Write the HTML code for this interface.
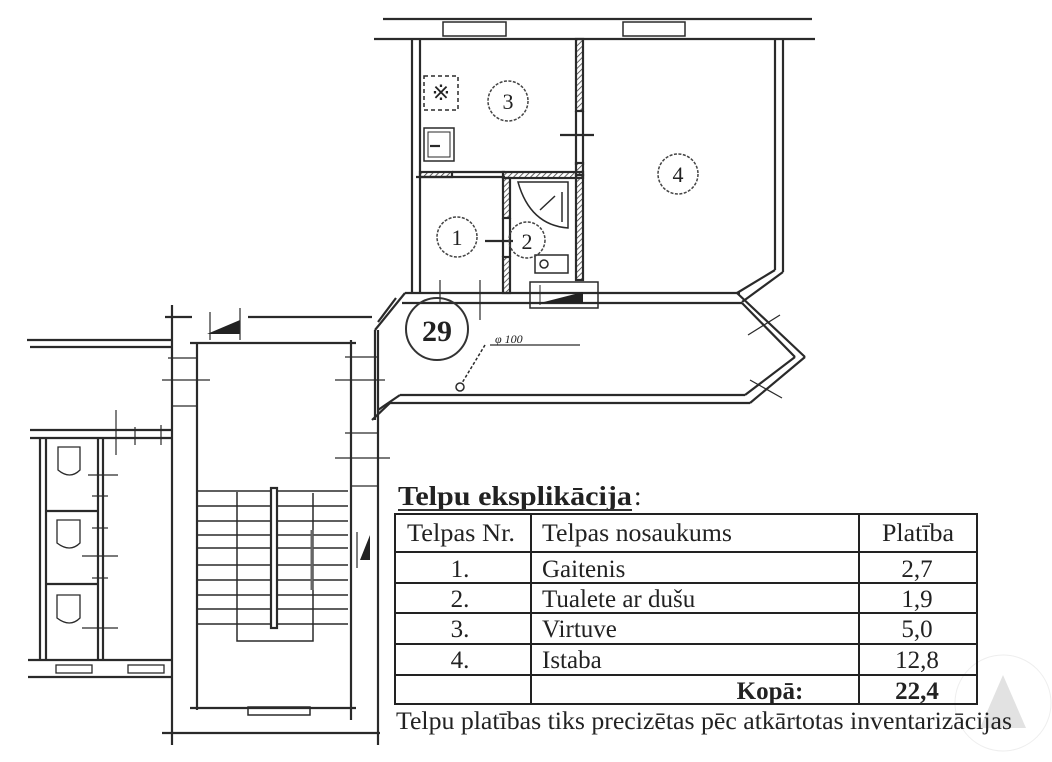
<!DOCTYPE html>
<html><head><meta charset="utf-8"><style>
html,body{margin:0;padding:0;background:#fff;}
svg{display:block}
text{font-family:"Liberation Serif",serif;fill:#222}
</style></head><body>
<svg width="1052" height="762" viewBox="0 0 1052 762" xmlns="http://www.w3.org/2000/svg">
<defs>
<pattern id="h" width="4" height="4" patternUnits="userSpaceOnUse" patternTransform="rotate(45)">
<line x1="0" y1="0" x2="0" y2="4" stroke="#333" stroke-width="1.5"/></pattern>
</defs>
<g stroke="#2a2a2a" stroke-width="2.2" fill="none">
<line x1="383" y1="19" x2="812" y2="19"/>
<line x1="374" y1="39" x2="815" y2="39"/>
<rect x="443" y="22" width="63" height="14" stroke-width="1.5"/>
<rect x="623" y="22" width="62" height="14" stroke-width="1.5"/>
<line x1="412" y1="39" x2="412" y2="293"/>
<line x1="420" y1="39" x2="420" y2="293"/>
<line x1="775" y1="39" x2="775" y2="270"/>
<line x1="783" y1="39" x2="783" y2="272"/>
<line x1="775" y1="270" x2="737" y2="293"/>
<line x1="783" y1="272" x2="742" y2="302"/>
<rect x="576" y="39" width="7" height="72" fill="url(#h)"/>
<line x1="576" y1="111" x2="576" y2="165"/>
<line x1="583" y1="111" x2="583" y2="165"/>
<rect x="576" y="163" width="7" height="12" fill="url(#h)"/>
<line x1="560" y1="135" x2="594" y2="135"/>
<rect x="420" y="172" width="32" height="5" fill="url(#h)"/>
<line x1="416" y1="177" x2="505" y2="177"/>
<line x1="452" y1="172" x2="505" y2="172"/>
<rect x="503" y="172" width="80" height="6" fill="url(#h)"/>
<rect x="503" y="178" width="7" height="40" fill="url(#h)"/>
<rect x="503" y="257" width="7" height="36" fill="url(#h)"/>
<line x1="503" y1="218" x2="503" y2="257"/><line x1="510" y1="218" x2="510" y2="257"/>
<rect x="576" y="175" width="7" height="105" fill="url(#h)"/>
<line x1="485" y1="241" x2="513" y2="241"/>
<path d="M518 182 L568 182 L568 228 Q530 225 518 182 Z" stroke-width="1.5"/>
<line x1="540" y1="210" x2="555" y2="196" stroke-width="1.5"/>
<line x1="562" y1="192" x2="562" y2="222" stroke-width="1.5"/>
<rect x="535" y="255" width="33" height="18" stroke-width="1.5"/>
<circle cx="544" cy="264" r="4" stroke-width="1.5"/>
<rect x="424" y="76" width="34" height="34" stroke-dasharray="4 3" stroke-width="1.5"/>
<text x="441" y="100" font-size="22" text-anchor="middle" stroke="none">※</text>
<rect x="424" y="128" width="30" height="33" stroke-width="1.5"/>
<rect x="428" y="132" width="22" height="25" stroke-width="1"/>
<line x1="430" y1="146" x2="440" y2="146"/>
<line x1="405" y1="293" x2="740" y2="293"/>
<line x1="402" y1="303" x2="742" y2="303"/>
<line x1="400" y1="395" x2="745" y2="395"/>
<line x1="390" y1="403" x2="750" y2="403"/>
<line x1="737" y1="293" x2="805" y2="357"/>
<line x1="742" y1="303" x2="795" y2="357"/>
<line x1="805" y1="357" x2="750" y2="403"/>
<line x1="795" y1="357" x2="745" y2="395"/>
<line x1="748" y1="335" x2="780" y2="315" stroke-width="1.2"/>
<line x1="750" y1="380" x2="782" y2="398" stroke-width="1.2"/>
<line x1="405" y1="293" x2="375" y2="330"/>
<line x1="396" y1="298" x2="378" y2="322"/>
<line x1="375" y1="330" x2="375" y2="420"/>
<line x1="400" y1="395" x2="378" y2="410"/>
<line x1="390" y1="403" x2="372" y2="420"/>
<line x1="440" y1="280" x2="440" y2="303" stroke-width="1.2"/>
<line x1="480" y1="280" x2="480" y2="320" stroke-width="1.2"/>
<rect x="530" y="282" width="68" height="26" stroke-width="1.5"/>
<polygon points="540,303 583,303 583,292" fill="#222" stroke="none"/>
<line x1="540" y1="285" x2="540" y2="305" stroke-width="1"/>
<line x1="490" y1="345" x2="580" y2="345" stroke-width="1.2"/>
<line x1="485" y1="345" x2="462" y2="383" stroke-width="1.5" stroke-dasharray="3 2"/>
<circle cx="460" cy="387" r="4" stroke-width="1.5"/>
<line x1="172" y1="305" x2="172" y2="745"/>
<line x1="197" y1="343" x2="197" y2="710"/>
<line x1="351" y1="340" x2="351" y2="720"/>
<line x1="378" y1="330" x2="378" y2="745"/>
<line x1="190" y1="343" x2="356" y2="343"/>
<line x1="248" y1="317" x2="372" y2="317"/>
<line x1="165" y1="317" x2="192" y2="317"/>
<line x1="190" y1="708" x2="356" y2="708"/>
<line x1="162" y1="733" x2="380" y2="733"/>
<rect x="248" y="707" width="62" height="8" stroke-width="1.5"/>
<polygon points="207,334 240,320 240,334" fill="#222" stroke="none"/>
<line x1="210" y1="312" x2="210" y2="340" stroke-width="1.2"/>
<line x1="240" y1="308" x2="240" y2="340" stroke-width="1.2"/>
<g stroke-width="1.6">
<line x1="197" y1="491" x2="348" y2="491"/><line x1="197" y1="506" x2="348" y2="506"/>
<line x1="197" y1="521" x2="348" y2="521"/><line x1="197" y1="535" x2="348" y2="535"/>
<line x1="197" y1="548" x2="348" y2="548"/><line x1="197" y1="565" x2="348" y2="565"/>
<line x1="197" y1="580" x2="348" y2="580"/><line x1="197" y1="595" x2="348" y2="595"/>
<line x1="197" y1="609" x2="348" y2="609"/><line x1="197" y1="624" x2="348" y2="624"/>
</g>
<rect x="271" y="488" width="6" height="140" fill="#fff"/>
<polyline points="237,492 237,641 313,641 313,493" stroke-width="1.5"/>
<line x1="312" y1="530" x2="312" y2="590" stroke="#666" stroke-width="3"/>
<polygon points="360,560 370,535 370,560" fill="#222" stroke="none"/>
<line x1="357" y1="532" x2="357" y2="568" stroke-width="1.2"/>
<g stroke-width="1.2">
<line x1="168" y1="358" x2="197" y2="358"/><line x1="162" y1="380" x2="210" y2="380"/>
<line x1="345" y1="357" x2="378" y2="357"/><line x1="335" y1="380" x2="385" y2="380"/>
<line x1="345" y1="433" x2="378" y2="433"/><line x1="335" y1="458" x2="390" y2="458"/>
<line x1="172" y1="406" x2="197" y2="406"/><line x1="350" y1="486" x2="378" y2="486"/>
</g>
<line x1="27" y1="340" x2="172" y2="340"/>
<line x1="30" y1="347" x2="172" y2="347"/>
<line x1="30" y1="430" x2="172" y2="430"/>
<line x1="30" y1="438" x2="172" y2="438"/>
<line x1="40" y1="438" x2="40" y2="660"/>
<line x1="46" y1="438" x2="46" y2="660"/>
<line x1="98" y1="438" x2="98" y2="660"/>
<line x1="103" y1="438" x2="103" y2="660"/>
<line x1="46" y1="511" x2="98" y2="511"/>
<line x1="46" y1="584" x2="98" y2="584"/>
<line x1="28" y1="660" x2="172" y2="660"/>
<line x1="28" y1="677" x2="172" y2="677"/>
<rect x="56" y="665" width="36" height="8" stroke-width="1.3"/>
<rect x="128" y="665" width="36" height="8" stroke-width="1.3"/>
<line x1="116" y1="410" x2="116" y2="455" stroke-width="1.2"/>
<line x1="135" y1="427" x2="135" y2="445" stroke-width="1.2"/>
<line x1="161" y1="425" x2="161" y2="445" stroke-width="1.2"/>
<g stroke-width="1.3">
<path d="M58 447 L80 447 L80 470 Q70 480 58 470 Z"/>
<path d="M57 520 L80 520 L80 543 Q70 553 57 543 Z"/>
<path d="M57 595 L80 595 L80 618 Q70 628 57 618 Z"/>
</g>
<g stroke-width="1.2">
<line x1="88" y1="475" x2="118" y2="475"/><line x1="92" y1="496" x2="108" y2="496"/>
<line x1="92" y1="528" x2="108" y2="528"/><line x1="82" y1="556" x2="118" y2="556"/>
<line x1="92" y1="578" x2="108" y2="578"/><line x1="82" y1="628" x2="118" y2="628"/>
</g>
</g>
<g stroke="#444" stroke-width="1.5" fill="none" stroke-dasharray="3 1.5">
<circle cx="508" cy="101" r="20"/>
<circle cx="678" cy="174" r="20"/>
<circle cx="457" cy="237" r="20"/>
<circle cx="527" cy="240" r="18"/>
</g>
<circle cx="437" cy="329" r="31" stroke="#333" stroke-width="2" fill="none"/>
<g font-size="22" text-anchor="middle">
<text x="508" y="109">3</text><text x="678" y="182">4</text>
<text x="457" y="245">1</text><text x="527" y="249">2</text>
</g>
<text x="437" y="341" font-size="30" font-weight="bold" text-anchor="middle">29</text>
<text x="495" y="343" font-size="12" font-style="italic" fill="#555">φ 100</text>
<circle cx="1003" cy="703" r="48" fill="none" stroke="#eee" stroke-width="1"/>
<polygon points="1003,675 980,728 1026,728" fill="#e2e2e2"/>
<text x="398" y="505" font-size="27" font-weight="bold" textLength="234" lengthAdjust="spacingAndGlyphs">Telpu eksplikācija</text>
<text x="634" y="505" font-size="27">:</text>
<line x1="398" y1="510" x2="632" y2="510" stroke="#333" stroke-width="2"/>
<g stroke="#222" stroke-width="2" fill="none">
<rect x="395" y="514" width="582" height="190"/>
<line x1="395" y1="552" x2="977" y2="552"/>
<line x1="395" y1="583" x2="977" y2="583"/>
<line x1="395" y1="613" x2="977" y2="613"/>
<line x1="395" y1="644" x2="977" y2="644"/>
<line x1="395" y1="675" x2="977" y2="675"/>
<line x1="531" y1="514" x2="531" y2="704"/>
<line x1="859" y1="514" x2="859" y2="704"/>
</g>
<g font-size="25">
<text x="407" y="541" textLength="108" lengthAdjust="spacingAndGlyphs">Telpas Nr.</text>
<text x="542" y="541" textLength="190" lengthAdjust="spacingAndGlyphs">Telpas nosaukums</text>
<text x="882" y="541" textLength="72" lengthAdjust="spacingAndGlyphs">Platība</text>
<text x="460" y="577" text-anchor="middle">1.</text>
<text x="460" y="607" text-anchor="middle">2.</text>
<text x="460" y="637" text-anchor="middle">3.</text>
<text x="460" y="668" text-anchor="middle">4.</text>
<text x="542" y="577">Gaitenis</text>
<text x="542" y="607">Tualete ar dušu</text>
<text x="542" y="637">Virtuve</text>
<text x="542" y="668">Istaba</text>
<text x="917" y="577" text-anchor="middle">2,7</text>
<text x="917" y="607" text-anchor="middle">1,9</text>
<text x="917" y="637" text-anchor="middle">5,0</text>
<text x="917" y="668" text-anchor="middle">12,8</text>
<text x="770" y="699" font-weight="bold" text-anchor="middle">Kopā:</text>
<text x="917" y="699" font-weight="bold" text-anchor="middle">22,4</text>
<text x="396" y="729" textLength="616" lengthAdjust="spacingAndGlyphs">Telpu platības tiks precizētas pēc atkārtotas inventarizācijas</text>
</g>
</svg>
</body></html>
